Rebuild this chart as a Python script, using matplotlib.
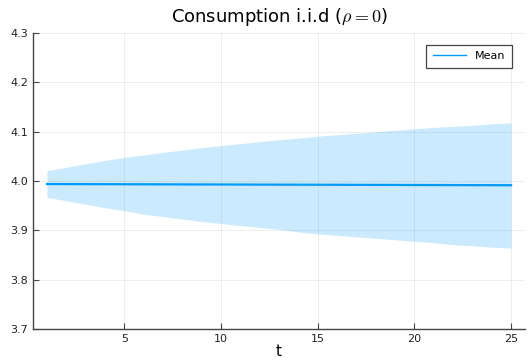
import numpy as np
import matplotlib.pyplot as plt

plt.rcParams['mathtext.fontset'] = 'cm'

t = np.arange(1, 26)
mean = [3.9940, 3.9939, 3.9938, 3.9937, 3.9936, 3.9935, 3.9934, 3.9933, 3.9932, 3.9931,
        3.9930, 3.9929, 3.9928, 3.9927, 3.9926, 3.9925, 3.9924, 3.9923, 3.9922, 3.9921,
        3.9920, 3.9919, 3.9918, 3.9917, 3.9916]
upper = [4.021, 4.028, 4.035, 4.042, 4.048, 4.053, 4.058, 4.063, 4.068, 4.072,
         4.076, 4.080, 4.084, 4.087, 4.091, 4.094, 4.097, 4.100, 4.103, 4.106,
         4.109, 4.111, 4.113, 4.116, 4.118]
lower = [3.967, 3.960, 3.953, 3.946, 3.940, 3.933, 3.928, 3.923, 3.918, 3.914,
         3.910, 3.906, 3.902, 3.897, 3.893, 3.890, 3.887, 3.884, 3.881, 3.878,
         3.875, 3.871, 3.869, 3.866, 3.864]

blue = '#009AFA'

fig = plt.figure(figsize=(5.29, 3.64), dpi=100)
ax = fig.add_axes([0.0624, 0.096, 0.93, 0.813])

ax.fill_between(t, lower, upper, color=blue, alpha=0.2, linewidth=0)
ax.plot(t, mean, color=blue, lw=1.6, label='Mean')

ax.set_xlim(0.28, 25.72)
ax.set_ylim(3.7, 4.3)
ax.set_xticks([5, 10, 15, 20, 25])
ax.set_yticks([3.7, 3.8, 3.9, 4.0, 4.1, 4.2, 4.3])
ax.grid(True, color='black', alpha=0.08, lw=0.6)
ax.set_axisbelow(True)

for s in ['top', 'right']:
    ax.spines[s].set_visible(False)
for s in ['left', 'bottom']:
    ax.spines[s].set_color('#444444')
    ax.spines[s].set_linewidth(1.0)
ax.tick_params(direction='in', length=4, width=0.8, color='#444444',
               labelsize=8, labelcolor='#222222')

ax.set_title('Consumption i.i.d ($\\rho = 0$)', fontsize=13, pad=8)
ax.set_xlabel('t', fontsize=11, labelpad=0)

leg = ax.legend(loc='upper right', fontsize=8, fancybox=False,
                edgecolor='#444444', framealpha=1, handlelength=3,
                borderpad=0.6, bbox_to_anchor=(0.985, 0.98))
leg.get_frame().set_linewidth(0.9)
leg.get_lines()[0].set_linewidth(1.0)

fig.savefig('out.png', dpi=100)
